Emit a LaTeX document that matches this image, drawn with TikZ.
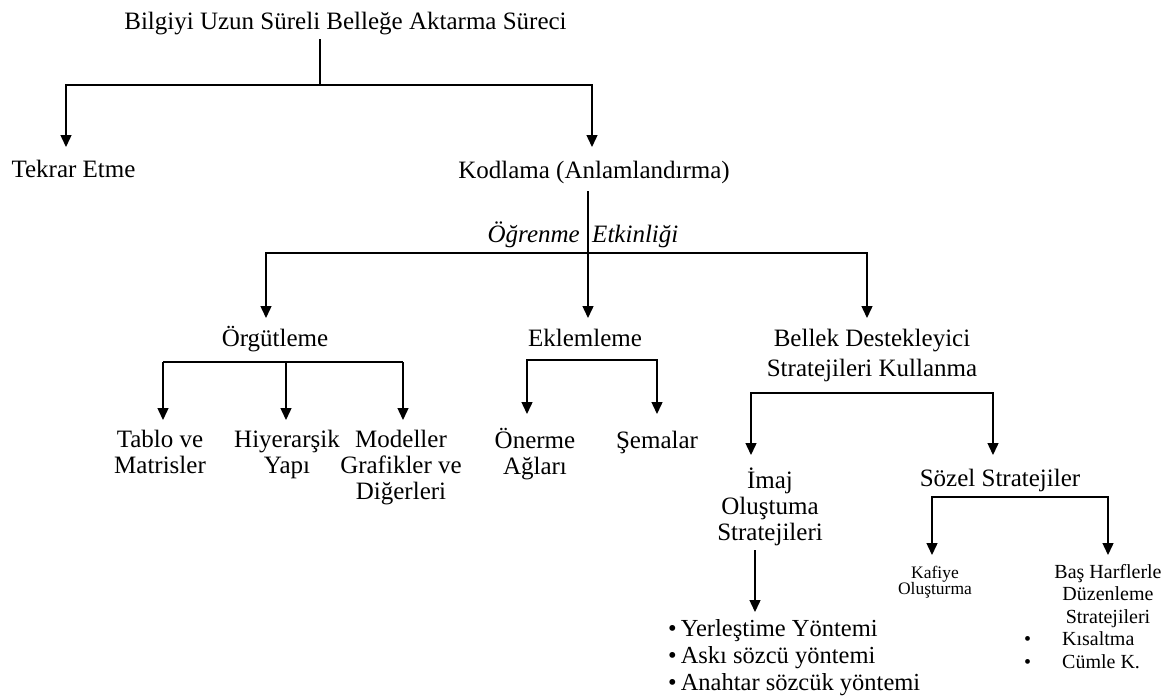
\documentclass[tikz,border=0pt]{standalone}
\usepackage{fontspec}
\setmainfont{Liberation Serif}
\usetikzlibrary{arrows.meta}
% invisible strut so every first line has the same top
\newcommand{\tstrut}{\rule{0pt}{0.92em}}
\begin{document}
\begin{tikzpicture}[x=1pt,y=-1pt]
\tikzset{
  ln/.style={line width=1.4pt},
  arr/.style={ln, -{Triangle[length=12pt,width=11pt]}},
  lbl/.style={inner sep=0pt, anchor=north, align=center, font=\fontsize{25}{26}\selectfont},
}
\useasboundingbox (0,0) rectangle (1172,697);

% ---- labels ----
\node[lbl, anchor=base, outer ysep=5pt] (title) at (345.5,29) {Bilgiyi Uzun Süreli Belleğe Aktarma Süreci};
\node[lbl, outer ysep=7pt] (tekrar) at (73.5,147) {\tstrut Tekrar Etme};
\node[lbl, outer ysep=8pt] (kodlama) at (594,147) {\tstrut Kodlama (Anlamlandırma)};
\node[lbl, anchor=base, font=\fontsize{25}{26}\selectfont\itshape] (ogrenme) at (583,242) {Öğrenme \ Etkinliği};
\node[lbl, outer ysep=5pt] (orgutleme) at (275,318) {\tstrut Örgütleme};
\node[lbl, outer ysep=5pt] (eklemleme) at (585,318) {\tstrut Eklemleme};
\node[lbl, outer ysep=5pt, font=\fontsize{25}{30}\selectfont] (bellek) at (872,318) {\tstrut Bellek Destekleyici\\Stratejileri Kullanma};
\node[lbl, outer ysep=4pt] (tablo) at (160,420) {\tstrut Tablo ve\\Matrisler};
\node[lbl, outer ysep=4pt] (hiyer) at (287,420) {\tstrut Hiyerarşik\\Yapı};
\node[lbl, outer ysep=4pt] (modeller) at (401,420) {\tstrut Modeller\\Grafikler ve\\Diğerleri};
\node[lbl, outer ysep=11pt] (onerme) at (535,414) {\tstrut Önerme\\Ağları};
\node[lbl, outer ysep=11pt] (semalar) at (657,414) {\tstrut Şemalar};
\node[lbl, outer ysep=10pt] (imaj) at (770,455) {\tstrut İmaj\\Oluştuma\\Stratejileri};
\node[lbl, outer ysep=8pt] (sozel) at (1000,455) {\tstrut Sözel Stratejiler};
\node[lbl, anchor=north west, align=left, outer ysep=1.5pt, font=\fontsize{24.5}{27}\selectfont] (imlist) at (668,612)
  {\tstrut•\hspace{4pt}Yerleştime Yöntemi\\•\hspace{4pt}Askı sözcü yöntemi\\•\hspace{4pt}Anahtar sözcük yöntemi};
\node[lbl, outer ysep=7pt, font=\fontsize{17.5}{16.5}\selectfont] (kafiye) at (935,555) {\tstrut Kafiye\\Oluşturma};
\node[lbl, outer ysep=4.6pt, font=\fontsize{20}{22.5}\selectfont] (bas) at (1108,555) {\tstrut Baş Harflerle\\Düzenleme\\Stratejileri};
\node[lbl, anchor=north west, align=left, font=\fontsize{20}{22.5}\selectfont] (baslist) at (1024,627.1)
  {\tstrut•\hspace{31pt}Kısaltma\\•\hspace{31pt}Cümle K.};

% ---- junction points ----
\coordinate (t0) at (320,85);  \coordinate (tL) at (66,85);   \coordinate (tR) at (592,85);
\coordinate (k0) at (588,253); \coordinate (kL) at (266,253); \coordinate (kR) at (867,253);
\coordinate (oL) at (163,362); \coordinate (oM) at (286,362); \coordinate (oR) at (403,362);
\coordinate (eL) at (527,360); \coordinate (eR) at (657,360);
\coordinate (bL) at (751,393); \coordinate (bR) at (993,393);
\coordinate (i0) at (755,550);
\coordinate (sL) at (932,497); \coordinate (sR) at (1108,497);

% ---- connectors ----
\draw[ln] (title.south -| t0) -- (t0);
\draw[arr] (t0) -- (tL) -- (tL |- tekrar.north);
\draw[arr] (t0) -- (tR) -- (tR |- kodlama.north);

\draw[arr] (kodlama.south -| k0) -- (k0 |- eklemleme.north);
\draw[arr] (k0) -- (kL) -- (kL |- orgutleme.north);
\draw[arr] (k0) -- (kR) -- (kR |- bellek.north);

\draw[ln] (oL) -- (oR);
\draw[arr] (oL) -- (oL |- tablo.north);
\draw[arr] (oM) -- (oM |- hiyer.north);
\draw[arr] (oR) -- (oR |- modeller.north);

\draw[arr] (eR) -- (eL) -- (eL |- onerme.north);
\draw[arr] (eL) -- (eR) -- (eR |- semalar.north);

\draw[arr] (bR) -- (bL) -- (bL |- imaj.north);
\draw[arr] (bL) -- (bR) -- (bR |- sozel.north);

\draw[arr] (i0) -- (i0 |- imlist.north);

\draw[arr] (sR) -- (sL) -- (sL |- kafiye.north);
\draw[arr] (sL) -- (sR) -- (sR |- bas.north);
\end{tikzpicture}
\end{document}
